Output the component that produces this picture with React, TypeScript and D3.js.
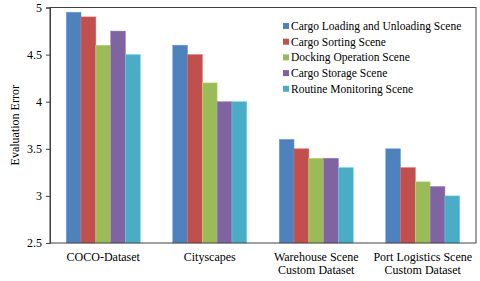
import React, { useEffect, useRef } from "react";
import * as d3 from "d3";

const categories = ["COCO-Dataset", "Cityscapes", "Warehouse Scene\nCustom Dataset", "Port Logistics Scene\nCustom Dataset"];
const seriesNames = [
  "Cargo Loading and Unloading Scene",
  "Cargo Sorting Scene",
  "Docking Operation Scene",
  "Cargo Storage Scene",
  "Routine Monitoring Scene",
];
const loading = [4.95, 4.6, 3.6, 3.5];
const sorting = [4.9, 4.5, 3.5, 3.3];
const docking = [4.6, 4.2, 3.4, 3.15];
const storage = [4.75, 4.0, 3.4, 3.1];
const monitoring = [4.5, 4.0, 3.3, 3.0];
const yTicks = [2.5, 3, 3.5, 4, 4.5, 5];

const colors = ["#4F81BD", "#C0504D", "#9BBB59", "#8064A2", "#4BACC6"];

const App = () => {
  const ref = useRef<SVGSVGElement>(null);

  useEffect(() => {
    const svg = d3.select(ref.current);
    svg.selectAll("*").remove();

    const margin = { top: 7.5, right: 4, bottom: 38, left: 50 };
    const width = 480 - margin.left - margin.right;
    const height = 281 - margin.top - margin.bottom;
    const font = "'Liberation Serif', 'Times New Roman', serif";
    const values = [loading, sorting, docking, storage, monitoring];

    const x0 = d3.scaleBand().domain(categories).range([0, width]).paddingInner(0.305).paddingOuter(0.1525);
    const x1 = d3.scaleBand().domain(seriesNames).range([0, x0.bandwidth()]);
    const y = d3.scaleLinear().domain([2.5, 5]).range([height, 0]);

    const g = svg.append("g").attr("transform", `translate(${margin.left},${margin.top})`);

    // bars
    categories.forEach((c, ci) => {
      const grp = g.append("g").attr("transform", `translate(${x0(c)},0)`);
      seriesNames.forEach((s, si) => {
        grp.append("rect")
          .attr("x", x1(s)!)
          .attr("y", y(values[si][ci]))
          .attr("width", x1.bandwidth())
          .attr("height", height - y(values[si][ci]))
          .attr("fill", colors[si])
          .attr("stroke", d3.color(colors[si])!.brighter(0.6).toString())
          .attr("stroke-width", 0.5);
      });
    });

    // frame
    g.append("rect")
      .attr("width", width)
      .attr("height", height)
      .attr("fill", "none")
      .attr("stroke", "#404040")
      .attr("stroke-width", 1);

    // y axis
    const yAxis = g.append("g")
      .call(d3.axisLeft(y).tickValues(yTicks).tickSize(4).tickPadding(4).tickFormat(d3.format("")));
    yAxis.select(".domain").attr("stroke", "#404040");
    yAxis.selectAll("line").attr("stroke", "#404040");
    yAxis.selectAll("text").attr("font-family", font).attr("font-size", 12).attr("fill", "#000");

    // x labels
    categories.forEach((c) => {
      const lines = c.split("\n");
      const t = g.append("text")
        .attr("x", x0(c)! + x0.bandwidth() / 2)
        .attr("y", height + 18)
        .attr("text-anchor", "middle")
        .attr("font-family", font)
        .attr("font-size", 12)
        .attr("fill", "#000");
      lines.forEach((l, i) => {
        t.append("tspan").attr("x", x0(c)! + x0.bandwidth() / 2).attr("dy", i === 0 ? 0 : 13).text(l);
      });
    });

    // y label
    svg.append("text")
      .attr("transform", `translate(19,${margin.top + height / 2}) rotate(-90)`)
      .attr("text-anchor", "middle")
      .attr("font-family", font)
      .attr("font-size", 12)
      .attr("fill", "#000")
      .text("Evaluation Error");

    // legend
    const legend = svg.append("g").attr("transform", "translate(283,26)");
    seriesNames.forEach((s, i) => {
      const item = legend.append("g").attr("transform", `translate(0,${i * 15.7})`);
      item.append("rect").attr("x", 0).attr("y", -3).attr("width", 6).attr("height", 6).attr("fill", colors[i]);
      item.append("text")
        .attr("x", 8)
        .attr("y", 0)
        .attr("dy", "0.35em")
        .attr("font-family", font)
        .attr("font-size", 11.5)
        .attr("fill", "#000")
        .text(s);
    });
  }, []);

  return (
    <svg
      ref={ref}
      width={480}
      height={281}
      style={{ position: "absolute", left: 0, top: 0, background: "#fff" }}
    />
  );
};

export default App;
